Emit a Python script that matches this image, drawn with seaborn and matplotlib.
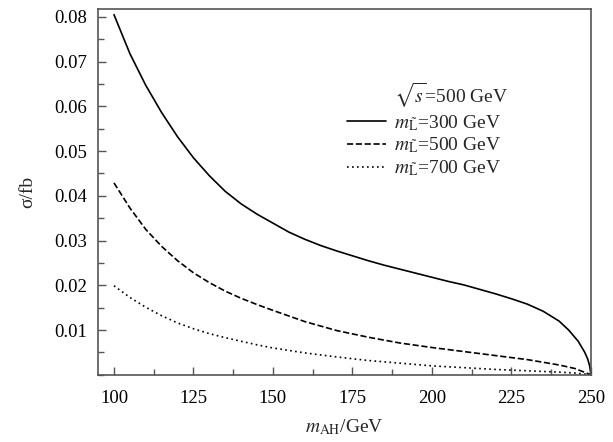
import numpy as np
import pandas as pd
import matplotlib
matplotlib.use("Agg")
import matplotlib.pyplot as plt
from matplotlib.lines import Line2D
from matplotlib.ticker import MultipleLocator
import seaborn as sns

# values
m_ah_300 = [100, 105, 110, 115, 120, 125, 130, 135, 140, 145, 150, 155, 160, 165,
            170, 175, 180, 185, 190, 195, 200, 205, 210, 215, 220, 225, 230, 235,
            240, 243, 246, 248, 249, 249.6, 250]
sigma_300 = [0.0805, 0.0718, 0.0647, 0.0586, 0.0532, 0.0485, 0.0445, 0.0410, 0.0382,
             0.0359, 0.0339, 0.0319, 0.0303, 0.0289, 0.0277, 0.0266, 0.0255, 0.0245,
             0.0236, 0.0227, 0.0218, 0.0209, 0.0201, 0.0191, 0.0181, 0.0170, 0.0158,
             0.0142, 0.0120, 0.0100, 0.0075, 0.0051, 0.0035, 0.0020, 0.0]

m_ah = [100, 105, 110, 115, 120, 125, 130, 135, 140, 145, 150, 160, 170, 180,
        190, 200, 210, 220, 230, 240, 245, 250]
sigma_500 = [0.0429, 0.0373, 0.0325, 0.0287, 0.0255, 0.0228, 0.0206, 0.0187, 0.0171,
             0.0157, 0.0144, 0.0119, 0.0099, 0.0084, 0.0071, 0.0061, 0.0052, 0.0043,
             0.0034, 0.0022, 0.0014, 0.0]
sigma_700 = [0.0199, 0.0173, 0.0151, 0.0132, 0.0116, 0.0103, 0.0092, 0.0083, 0.0075,
             0.0067, 0.0060, 0.0049, 0.0040, 0.0032, 0.0026, 0.0020, 0.0016, 0.0012,
             0.0009, 0.0006, 0.0004, 0.0]

labels = [r"$m_{\tilde{\rm L}}$=300 GeV", r"$m_{\tilde{\rm L}}$=500 GeV",
          r"$m_{\tilde{\rm L}}$=700 GeV"]
styles = ["-", "--", (0, (1, 2))]

sns.set_style("ticks")
plt.rcParams["font.family"] = ["Liberation Serif", "DejaVu Serif"]
plt.rcParams["mathtext.fontset"] = "stix"
plt.rcParams["font.size"] = 13.5

fig = plt.figure(figsize=(6.13, 4.42), dpi=100)
ax = fig.add_axes([0.160, 0.152, 0.804, 0.828])

series = [(m_ah_300, sigma_300), (m_ah, sigma_500), (m_ah, sigma_700)]
for (x, y), lab, ls in zip(series, labels, styles):
    df = pd.DataFrame({"m": x, "sigma": y})
    sns.lineplot(data=df, x="m", y="sigma", ax=ax, color="black", linestyle=ls,
                 linewidth=1.2, label=lab, legend=False)

ax.set_xlim(95, 250)
ax.set_ylim(0, 0.0818)
ax.set_xticks([100, 125, 150, 175, 200, 225, 250])
ax.set_yticks([0.01, 0.02, 0.03, 0.04, 0.05, 0.06, 0.07, 0.08])
ax.xaxis.set_minor_locator(MultipleLocator(12.5))
ax.yaxis.set_minor_locator(MultipleLocator(0.005))
ax.tick_params(which="both", direction="in", colors="#555555", labelcolor="black",
               labelsize=13.5)
ax.tick_params(which="major", length=6, width=1)
ax.tick_params(which="minor", length=4, width=1)
ax.tick_params(axis="x", pad=11)
ax.tick_params(axis="y", pad=8)
for sp in ax.spines.values():
    sp.set_color("#555555")
    sp.set_linewidth(1.2)

ax.set_xlabel(r"$m_{\rm AH}$/GeV", fontsize=14, labelpad=7)
ax.set_ylabel("σ/fb", fontsize=14, labelpad=13)

handles = [Line2D([], [], color="none")] + [
    Line2D([], [], color="black", linestyle=ls, linewidth=1.2) for ls in styles]
ax.legend(handles, [r"$\sqrt{s}$=500 GeV"] + labels, loc="upper left",
          bbox_to_anchor=(0.47, 0.85), frameon=False, handlelength=2.0,
          labelspacing=0.15, handletextpad=0.4, fontsize=14)

fig.savefig("out.png", dpi=100)
